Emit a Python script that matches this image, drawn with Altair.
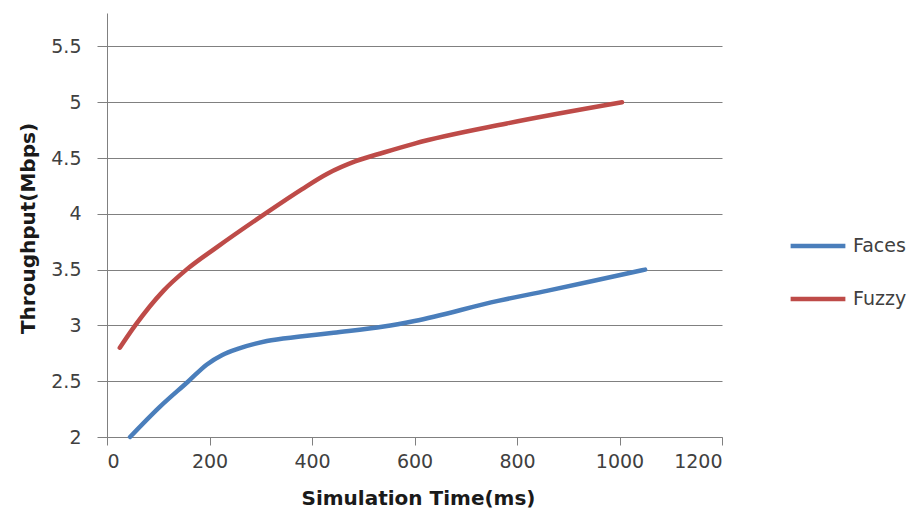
import altair as alt
import pandas as pd

# Series data
faces_x = [45, 103, 159, 195, 225, 255, 312, 377, 442, 540, 600, 763, 858, 950, 1050]
faces_y = [2.0, 2.27, 2.5, 2.65, 2.735, 2.79, 2.86, 2.9, 2.935, 2.99, 3.04, 3.22, 3.31, 3.40, 3.5]

fuzzy_x = [25, 55, 110, 155, 214, 308, 380, 430, 484, 540, 600, 780, 1005]
fuzzy_y = [2.80, 3.0, 3.31, 3.5, 3.70, 4.0, 4.22, 4.36, 4.47, 4.55, 4.63, 4.81, 5.0]

series_names = ["Faces", "Fuzzy"]
series_colors = ["#4A7EBB", "#BE4B48"]

x_ticks = [0, 200, 400, 600, 800, 1000, 1200]
y_ticks = [2, 2.5, 3, 3.5, 4, 4.5, 5, 5.5]

rows = []
for i, (xv, yv) in enumerate(zip(faces_x, faces_y)):
    rows.append({"series": "Faces", "t": xv, "thr": yv, "order": i})
for i, (xv, yv) in enumerate(zip(fuzzy_x, fuzzy_y)):
    rows.append({"series": "Fuzzy", "t": xv, "thr": yv, "order": i})
df = pd.DataFrame(rows)

FONT = "DejaVu Sans"

chart = (
    alt.Chart(df)
    .mark_line(interpolate="monotone", strokeWidth=4.5, strokeCap="round")
    .encode(
        x=alt.X(
            "t:Q",
            scale=alt.Scale(domain=[0, 1200], nice=False, zero=False),
            axis=alt.Axis(
                values=x_ticks,
                labelExpr="datum.value",
                title="Simulation Time(ms)",
                grid=False,
                tickSize=8,
                labelPadding=7,
                titleX=311,
                titleY=61,
                titleBaseline="middle",
            ),
        ),
        y=alt.Y(
            "thr:Q",
            scale=alt.Scale(domain=[2, 5.8], nice=False, zero=False),
            axis=alt.Axis(
                values=y_ticks,
                labelExpr="datum.value",
                title="Throughput(Mbps)",
                grid=True,
                tickSize=10,
                labelPadding=16,
                titleX=-79,
                titleY=215,
                titleBaseline="middle",
                titleAngle=270,
            ),
        ),
        color=alt.Color(
            "series:N",
            scale=alt.Scale(domain=series_names, range=series_colors),
            legend=alt.Legend(
                title=None,
                orient="none",
                legendX=681,
                legendY=203,
                symbolType="stroke",
                symbolSize=3000,
                symbolStrokeWidth=4.5,
                labelFontSize=19,
                labelFont=FONT,
                labelColor="#404040",
                labelOffset=5,
                rowPadding=13,
            ),
        ),
        order="order:Q",
    )
    .properties(
        width=615,
        height=424,
        autosize=alt.AutoSizeParams(type="none"),
        padding={"left": 107, "top": 13, "right": 190, "bottom": 91},
        background="white",
    )
    .configure_view(stroke=None)
    .configure_axis(
        labelFont=FONT,
        labelFontSize=19,
        labelColor="#404040",
        titleFont=FONT,
        titleFontSize=20,
        titleFontWeight="bold",
        titleColor="#1a1a1a",
        domainColor="#808080",
        domainWidth=1,
        tickColor="#808080",
        tickWidth=1,
        gridColor="#808080",
        gridWidth=1,
    )
)

chart.save("out.html", embed_options={"renderer": "svg", "actions": False})
